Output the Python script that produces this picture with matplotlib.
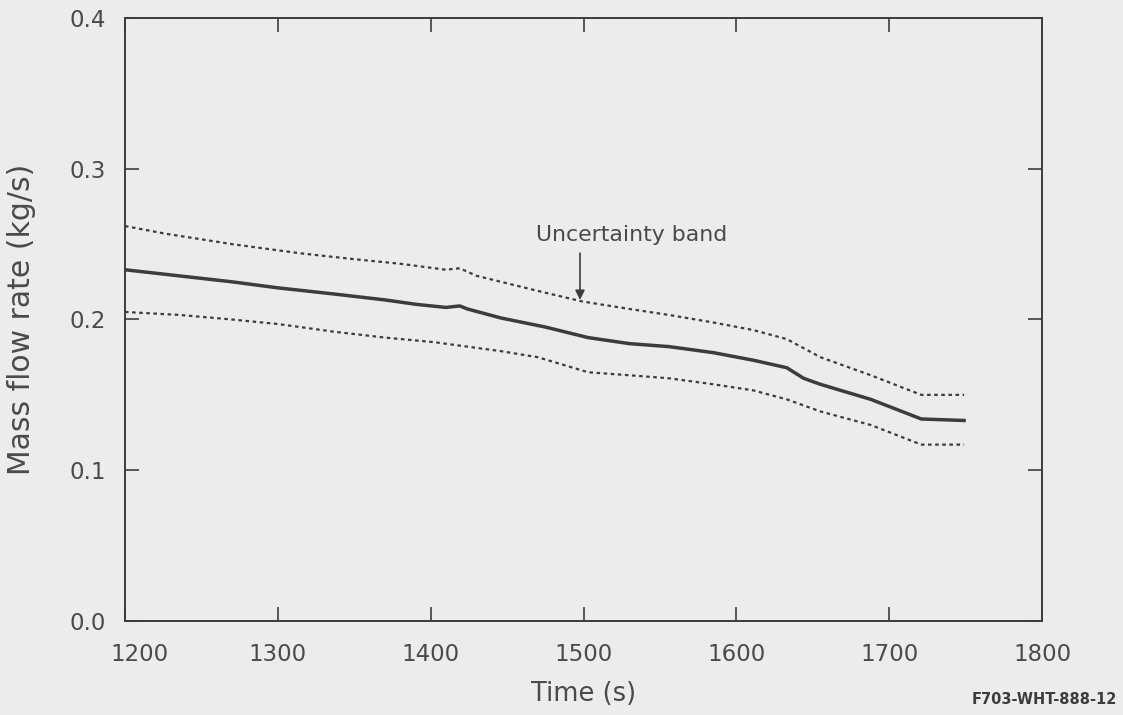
import numpy as np
import matplotlib
matplotlib.use("Agg")
import matplotlib.pyplot as plt
import matplotlib.transforms as mtrans

plt.rcParams['font.family'] = ['DejaVu Sans']

# values
t_mid = [1200, 1235, 1270, 1300, 1336, 1370, 1391, 1410, 1419, 1424, 1446, 1475, 1503, 1530,
         1556, 1585, 1611, 1633, 1644, 1655, 1688, 1721, 1749]
flow_mid = [0.233, 0.229, 0.225, 0.221, 0.217, 0.213, 0.210, 0.208, 0.209, 0.207, 0.201, 0.195,
            0.188, 0.184, 0.182, 0.178, 0.173, 0.168, 0.161, 0.157, 0.147, 0.134, 0.133]

t_up = [1200, 1226, 1270, 1314, 1350, 1380, 1410, 1419, 1430, 1446, 1470, 1499, 1530, 1556,
        1585, 1611, 1633, 1655, 1688, 1721, 1749]
flow_up = [0.262, 0.257, 0.250, 0.244, 0.240, 0.237, 0.233, 0.234, 0.229, 0.225, 0.219, 0.212,
           0.207, 0.203, 0.198, 0.193, 0.187, 0.175, 0.163, 0.150, 0.150]

t_lo = [1200, 1236, 1270, 1300, 1336, 1370, 1402, 1424, 1446, 1470, 1503, 1530,
        1556, 1585, 1611, 1633, 1655, 1688, 1721, 1749]
flow_lo = [0.205, 0.203, 0.200, 0.197, 0.192, 0.188, 0.185, 0.182, 0.179, 0.175, 0.165, 0.163,
           0.161, 0.157, 0.153, 0.147, 0.139, 0.130, 0.117, 0.117]

xticks = [1200, 1300, 1400, 1500, 1600, 1700, 1800]
yticks = [0.0, 0.1, 0.2, 0.3, 0.4]

bg = '#ececec'
ink = '#3c3c3c'
txt = '#4a4a4a'

fig = plt.figure(figsize=(11.23, 7.15), dpi=100, facecolor=bg)
ax = fig.add_axes([0.1113, 0.1315, 0.8166, 0.8433], facecolor=bg)

ax.plot(t_mid, flow_mid, color=ink, lw=2.5)
ax.plot(t_up, flow_up, color=ink, lw=1.6, ls=(0, (1.6, 1.6)))
ax.plot(t_lo, flow_lo, color=ink, lw=1.6, ls=(0, (1.6, 1.6)))

ax.annotate('', xy=(1497.7, 0.213), xytext=(1497.7, 0.244),
            arrowprops=dict(arrowstyle='-|>', color=ink, lw=1.2, mutation_scale=14,
                            shrinkA=0, shrinkB=0))
ax.text(1531.7, 0.256, 'Uncertainty band', ha='center', va='center',
        fontsize=15.8, color=txt)

ax.set_xlim(1200, 1800)
ax.set_ylim(0.0, 0.4)
ax.set_xticks(xticks)
ax.set_yticks(yticks)
ax.set_yticklabels(['%.1f' % v for v in yticks])
ax.tick_params(direction='in', length=10, width=1.2, colors=ink, labelcolor=txt,
               labelsize=16.5, top=True, right=True)
ax.tick_params(axis='x', pad=16)
ax.tick_params(axis='y', pad=14)
for s in ax.spines.values():
    s.set_color(ink)
    s.set_linewidth(1.4)

# first time label sits a little right of its tick in the original
lab0 = ax.get_xticklabels()[0]
lab0.set_transform(lab0.get_transform() + mtrans.ScaledTranslation(15 / 100, 0, fig.dpi_scale_trans))

ax.set_xlabel('Time (s)', fontsize=18.5, color=txt)
ax.xaxis.set_label_coords(0.5, -0.10)
ax.set_ylabel('Mass flow rate (kg/s)', fontsize=21.5, color=txt)
ax.yaxis.set_label_coords(-0.097, 0.5)

fig.text(1117 / 1123, 1 - 700 / 715, 'F703-WHT-888-12', ha='right', va='center',
         fontsize=10.5, fontweight='bold', color=ink)

fig.savefig('out.png', dpi=100, facecolor=bg)
